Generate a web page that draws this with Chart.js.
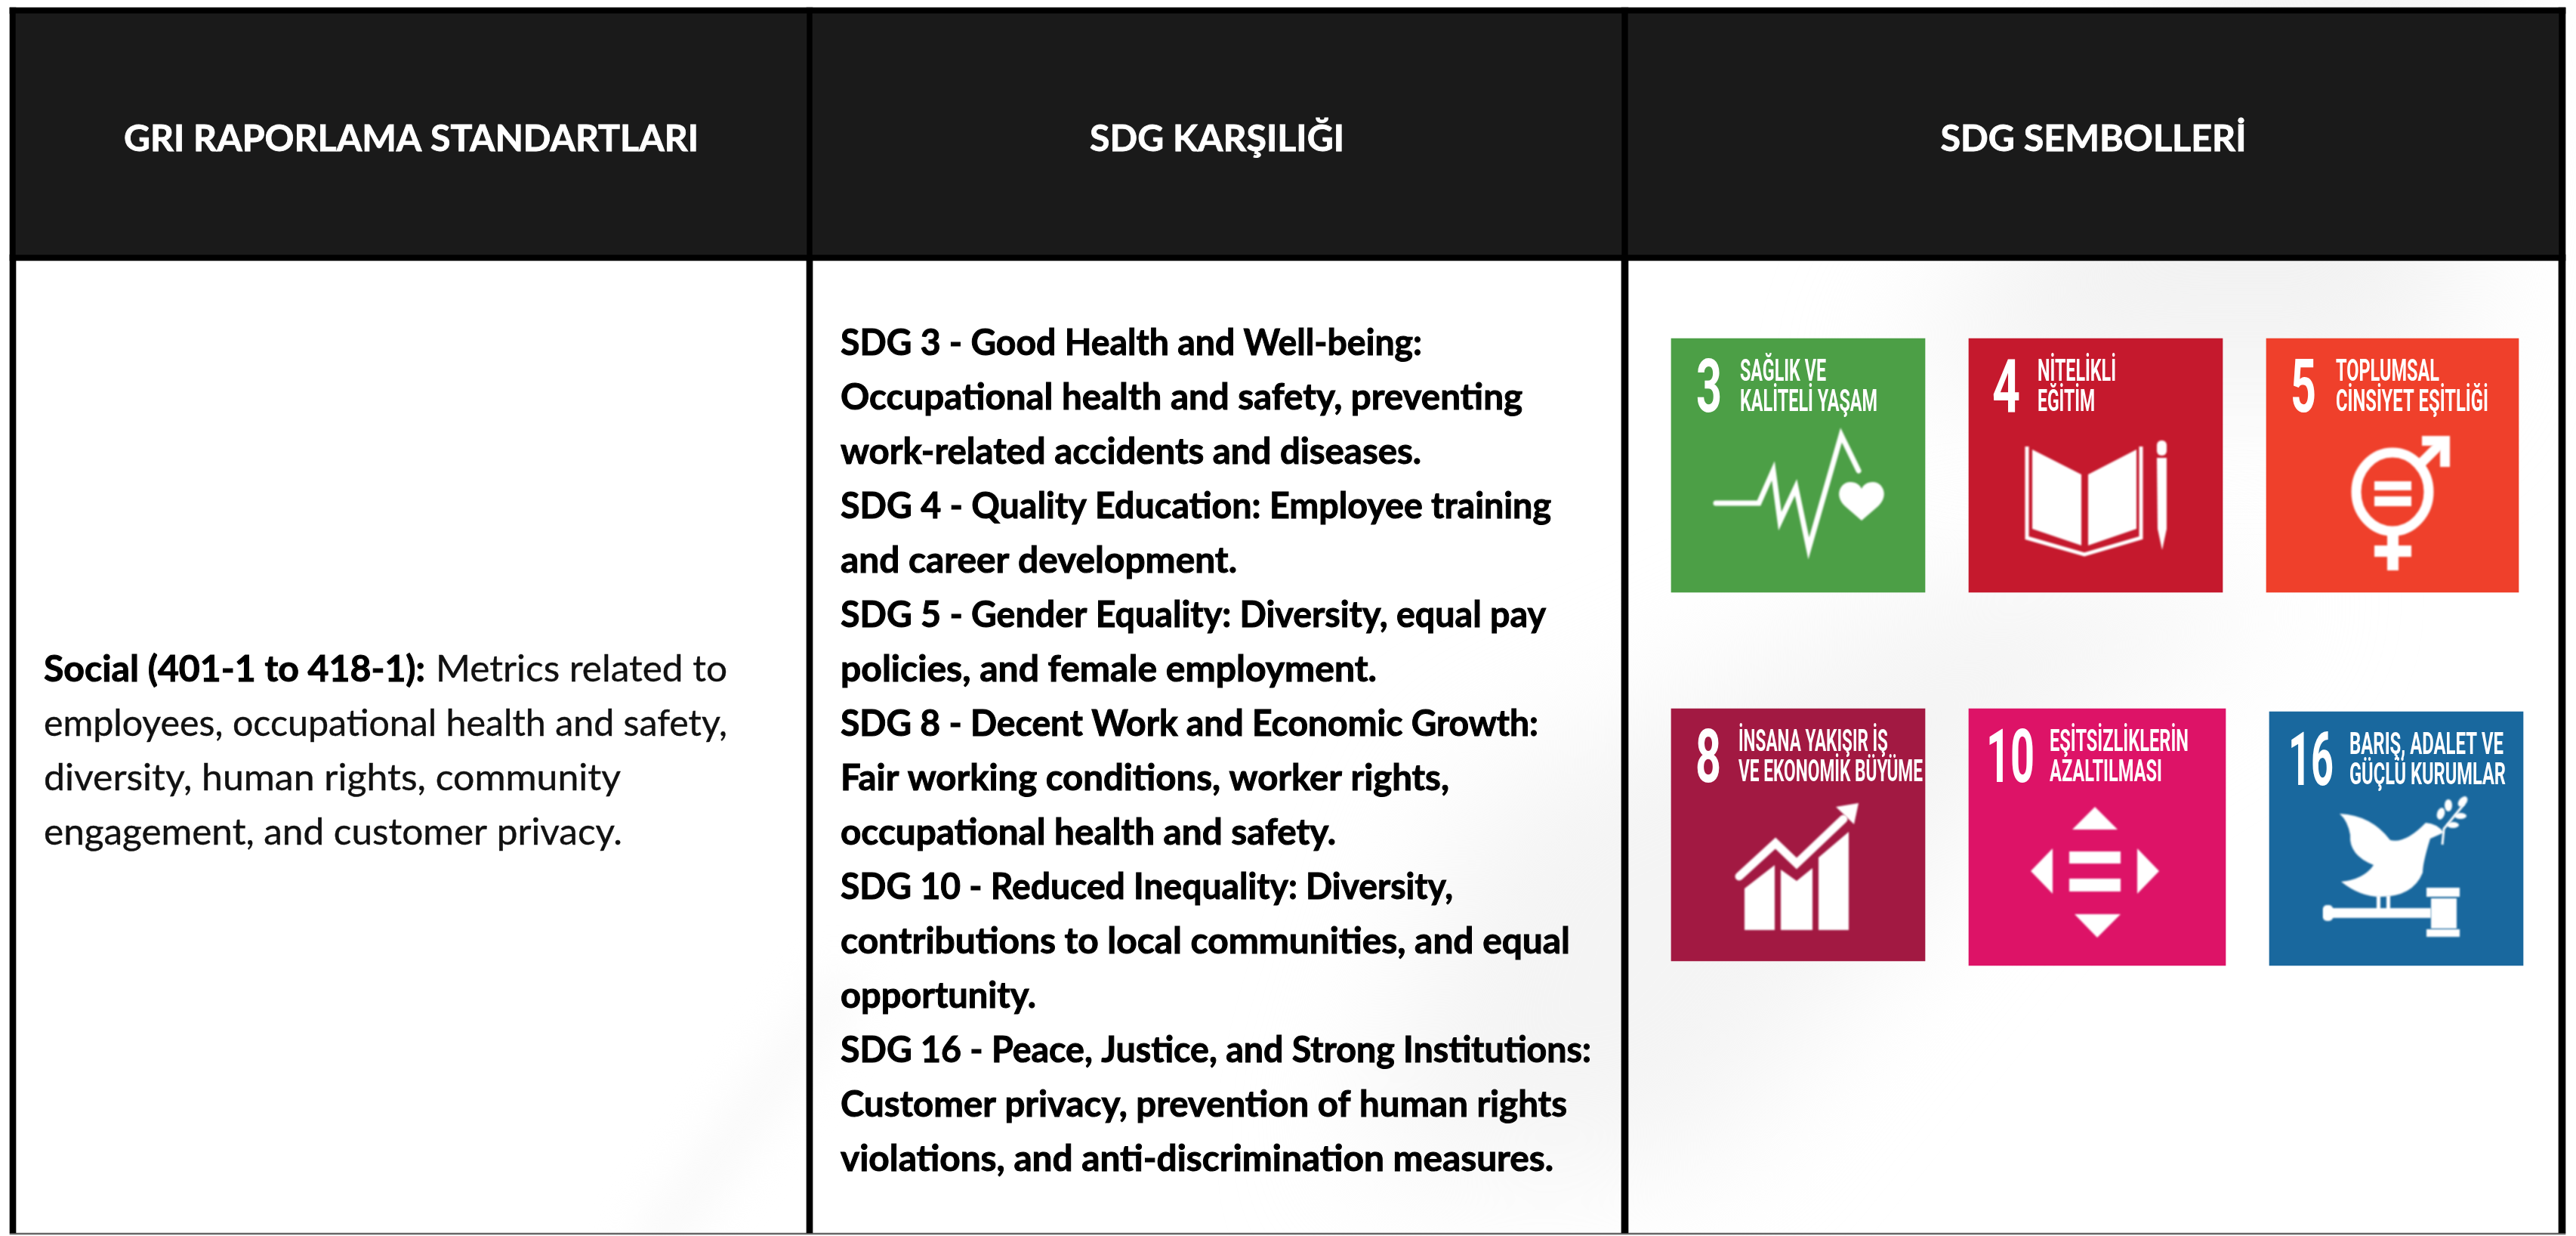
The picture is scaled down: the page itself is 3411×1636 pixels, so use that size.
<!DOCTYPE html>
<html lang="tr">
<head>
<meta charset="utf-8">
<title>GRI - SDG</title>
<script src="https://cdn.jsdelivr.net/npm/chart.js@4"></script>
<style>
html, body { margin: 0; padding: 0; background: #fff; }
canvas { display: block; }
</style>
</head>
<body>
<canvas id="myChart" width="3411" height="1636"></canvas>
<script>
const headers = ["GRI RAPORLAMA STANDARTLARI", "SDG KARŞILIĞI", "SDG SEMBOLLERİ"];
const socialBold = "Social (401-1 to 418-1):";
const socialFirst = "Metrics related to";
const socialLines = [
    "employees, occupational health and safety,",
    "diversity, human rights, community",
    "engagement, and customer privacy."
];
const sdgLines = [
    "SDG 3 - Good Health and Well-being:",
    "Occupational health and safety, preventing",
    "work-related accidents and diseases.",
    "SDG 4 - Quality Education: Employee training",
    "and career development.",
    "SDG 5 - Gender Equality: Diversity, equal pay",
    "policies, and female employment.",
    "SDG 8 - Decent Work and Economic Growth:",
    "Fair working conditions, worker rights,",
    "occupational health and safety.",
    "SDG 10 - Reduced Inequality: Diversity,",
    "contributions to local communities, and equal",
    "opportunity.",
    "SDG 16 - Peace, Justice, and Strong Institutions:",
    "Customer privacy, prevention of human rights",
    "violations, and anti-discrimination measures."
];
// satırların sağ uçları
const sdgLineEnds = [1883, 2016, 1882, 2054, 1638, 2047, 1823, 2037, 1919, 1769, 1924, 2079, 1372, 2107, 2075, 2057];
const socialLineEnds = [963, 822, 824];

// SDG kutuları
const tileNumbers = ["3", "4", "5", "8", "10", "16"];
const tileLine1 = ["SAĞLIK VE", "NİTELİKLİ", "TOPLUMSAL", "İNSANA YAKIŞIR İŞ", "EŞİTSİZLİKLERİN", "BARIŞ, ADALET VE"];
const tileLine2 = ["KALİTELİ YAŞAM", "EĞİTİM", "CİNSİYET EŞİTLİĞİ", "VE EKONOMİK BÜYÜME", "AZALTILMASI", "GÜÇLÜ KURUMLAR"];
const tileLeft = [2213, 2607, 3001, 2213, 2607, 3005];
const tileRight = [2549, 2943, 3335, 2549, 2947, 3341];
const tileTop = [448, 448, 448, 938, 938, 942];
const tileBottom = [784, 784, 784, 1272, 1278, 1278];
const tileColors = ["#4c9f46", "#c5192d", "#ef402b", "#a21942", "#dd1367", "#19689e"];

// kutu içi yazı yerleşimi
const numX = [[33, 67], [31, 68], [32, 66], [32, 66], [23, 87], [25, 85]];
const lineX = [91, 91, 92, 89, 107, 106];
const line1W = [114, 104, 137, 198, 184, 204];
const line2W = [182, 76, 202, 244, 149, 207];

// tablo çizgileri
const colEdges = [13, 21, 1068, 1076, 2147, 2156, 3388, 3397];
const rowEdges = [10, 18, 337, 345, 1632];

function rect(x0, x1, y0, y1, color) {
    return {
        type: "bar",
        data: [{ x: (x0 + x1) / 2, y: [y0, y1] }],
        barThickness: x1 - x0,
        backgroundColor: color,
        borderWidth: 0,
        grouped: false
    };
}

const datasets = [];
// başlık hücreleri
datasets.push(rect(colEdges[1], colEdges[2], rowEdges[1], rowEdges[2], "#1a1a1a"));
datasets.push(rect(colEdges[3], colEdges[4], rowEdges[1], rowEdges[2], "#1a1a1a"));
datasets.push(rect(colEdges[5], colEdges[6], rowEdges[1], rowEdges[2], "#1a1a1a"));
// kenarlıklar
datasets.push(rect(colEdges[0], colEdges[7], rowEdges[0], rowEdges[1], "#000"));
datasets.push(rect(colEdges[0], colEdges[7], rowEdges[2], rowEdges[3], "#000"));
datasets.push(rect(colEdges[0], colEdges[1], rowEdges[0], rowEdges[4], "#000"));
datasets.push(rect(colEdges[2], colEdges[3], rowEdges[0], rowEdges[4], "#000"));
datasets.push(rect(colEdges[4], colEdges[5], rowEdges[0], rowEdges[4], "#000"));
datasets.push(rect(colEdges[6], colEdges[7], rowEdges[0], rowEdges[4], "#000"));
datasets.push(rect(colEdges[0], colEdges[7], rowEdges[4], rowEdges[4] + 2, "#666"));
// SDG kutuları
tileNumbers.forEach(function(n, i) {
    datasets.push(rect(tileLeft[i], tileRight[i], tileTop[i], tileBottom[i], tileColors[i]));
});

function fitText(ctx, text, x, y, w, font, color, heavy) {
    ctx.save();
    ctx.font = font;
    ctx.fillStyle = color;
    ctx.strokeStyle = color;
    ctx.textAlign = "left";
    ctx.textBaseline = "alphabetic";
    ctx.filter = "blur(0.6px)";
    const m = ctx.measureText(text).width;
    ctx.translate(x, y);
    ctx.scale(w / m, 1);
    ctx.fillText(text, 0, 0);
    if (heavy) {
        ctx.lineWidth = heavy;
        ctx.strokeText(text, 0, 0);
    }
    ctx.restore();
}

function poly(ctx, pts) {
    ctx.beginPath();
    pts.forEach(function(p, i) { if (i === 0) ctx.moveTo(p[0], p[1]); else ctx.lineTo(p[0], p[1]); });
}

function fillPoly(ctx, pts) {
    poly(ctx, pts);
    ctx.closePath();
    ctx.fill();
}

// semboller, kutunun sol üst köşesine göre
const glyphs = {
    "3": function(ctx) {
        ctx.lineWidth = 7;
        ctx.lineJoin = "miter";
        ctx.lineCap = "round";
        poly(ctx, [[59, 218], [116, 218], [135, 175], [144, 242], [165, 197], [182, 278], [225, 128], [248, 175]]);
        ctx.stroke();
        ctx.beginPath();
        ctx.moveTo(252, 241);
        ctx.lineTo(230, 222);
        ctx.bezierCurveTo(215, 208, 224, 190, 237, 190);
        ctx.bezierCurveTo(245, 190, 250, 194, 252, 199);
        ctx.bezierCurveTo(254, 194, 259, 190, 267, 190);
        ctx.bezierCurveTo(280, 190, 289, 208, 274, 222);
        ctx.closePath();
        ctx.fill();
    },
    "4": function(ctx) {
        fillPoly(ctx, [[84, 147], [149, 180], [149, 274], [84, 252]]);
        fillPoly(ctx, [[158, 180], [222, 147], [222, 252], [158, 274]]);
        ctx.lineWidth = 5;
        ctx.lineJoin = "miter";
        poly(ctx, [[77, 143], [77, 264], [153, 286], [228, 264], [228, 143]]);
        ctx.stroke();
        ctx.beginPath();
        ctx.roundRect(249, 135, 13, 20, 6);
        ctx.fill();
        fillPoly(ctx, [[249, 158], [262, 158], [262, 252], [256, 280], [250, 252]]);
    },
    "5": function(ctx) {
        ctx.lineWidth = 13;
        ctx.beginPath();
        ctx.ellipse(167, 203, 48, 52, 0, 0, Math.PI * 2);
        ctx.stroke();
        ctx.fillRect(143, 189, 49, 12);
        ctx.fillRect(143, 209, 49, 13);
        ctx.fillRect(160, 255, 15, 52);
        ctx.fillRect(143, 274, 49, 15);
        ctx.lineWidth = 13;
        poly(ctx, [[200, 170], [233, 137]]);
        ctx.stroke();
        fillPoly(ctx, [[206, 129], [243, 129], [243, 170], [230, 170], [230, 142], [206, 142]]);
    },
    "8": function(ctx) {
        fillPoly(ctx, [[97, 238], [137, 207], [137, 293], [97, 293]]);
        fillPoly(ctx, [[145, 213], [166, 228], [187, 211], [187, 293], [145, 293]]);
        fillPoly(ctx, [[195, 197], [235, 163], [235, 293], [195, 293]]);
        ctx.lineWidth = 11;
        ctx.lineCap = "round";
        ctx.lineJoin = "miter";
        poly(ctx, [[90, 222], [138, 178], [166, 205], [228, 146]]);
        ctx.stroke();
        fillPoly(ctx, [[248, 125], [218, 130], [242, 153]]);
    },
    "10": function(ctx) {
        fillPoly(ctx, [[167, 130], [197, 160], [137, 160]]);
        fillPoly(ctx, [[170, 303], [140, 272], [201, 272]]);
        fillPoly(ctx, [[111, 185], [111, 245], [82, 215]]);
        fillPoly(ctx, [[223, 185], [252, 215], [223, 245]]);
        ctx.fillRect(133, 189, 68, 16);
        ctx.fillRect(133, 225, 68, 17);
    },
    "16": function(ctx) {
        // güvercin
        ctx.beginPath();
        ctx.moveTo(93, 135);
        ctx.quadraticCurveTo(135, 137, 160, 170);
        ctx.quadraticCurveTo(180, 175, 207, 147);
        ctx.quadraticCurveTo(222, 148, 231, 160);
        ctx.lineTo(213, 168);
        ctx.quadraticCurveTo(203, 200, 203, 213);
        ctx.quadraticCurveTo(190, 245, 147, 245);
        ctx.quadraticCurveTo(120, 245, 95, 225);
        ctx.quadraticCurveTo(125, 222, 138, 203);
        ctx.quadraticCurveTo(105, 190, 107, 163);
        ctx.quadraticCurveTo(104, 145, 93, 135);
        ctx.closePath();
        ctx.fill();
        // bacaklar
        ctx.fillRect(142, 243, 5, 20);
        ctx.fillRect(155, 243, 5, 20);
        // tokmak
        ctx.fillRect(72, 260, 142, 13);
        ctx.beginPath();
        ctx.roundRect(71, 256, 13, 21, 5);
        ctx.fill();
        ctx.fillRect(214, 247, 34, 40);
        ctx.fillRect(208, 233, 44, 12);
        ctx.fillRect(208, 288, 44, 10);
        // dal
        ctx.lineWidth = 3;
        poly(ctx, [[229, 176], [231, 155], [258, 122]]);
        ctx.stroke();
        [[227, 135, 5, 8, 0.3], [237, 124, 5, 8, 0], [256, 119, 5, 8, 0.7], [253, 138, 8, 4, 0], [243, 150, 8, 4, 0]].forEach(function(e) {
            ctx.beginPath();
            ctx.ellipse(e[0], e[1], e[2], e[3], e[4], 0, Math.PI * 2);
            ctx.fill();
        });
    }
};

const tablePlugin = {
    id: "tablePlugin",
    beforeDraw: function(chart) {
        const ctx = chart.ctx;
        ctx.save();
        ctx.fillStyle = "#fff";
        ctx.fillRect(0, 0, chart.width, chart.height);
        // arka plandaki soluk kumaş izleri
        ctx.filter = "blur(90px)";
        ctx.fillStyle = "#f2f2f2";
        // sağ üst
        ctx.beginPath();
        ctx.moveTo(2950, -60);
        ctx.lineTo(3310, -60);
        ctx.lineTo(3230, 520);
        ctx.lineTo(2500, 520);
        ctx.closePath();
        ctx.fill();
        // iki sıra kutu arası ve orta sütun altı
        ctx.fillStyle = "#f4f4f4";
        ctx.beginPath();
        ctx.moveTo(2600, 760);
        ctx.lineTo(3050, 780);
        ctx.lineTo(2700, 1000);
        ctx.lineTo(2250, 1550);
        ctx.lineTo(1800, 1550);
        ctx.lineTo(1950, 1050);
        ctx.closePath();
        ctx.fill();
        // sol sütun alt köşe
        ctx.filter = "blur(30px)";
        ctx.strokeStyle = "#f8f8f8";
        ctx.lineWidth = 50;
        ctx.beginPath();
        ctx.moveTo(1120, 1300);
        ctx.lineTo(860, 1660);
        ctx.stroke();
        ctx.filter = "none";
        ctx.restore();
    },
    afterDatasetsDraw: function(chart) {
        const ctx = chart.ctx;
        const xs = chart.scales.x;
        const ys = chart.scales.y;
        ctx.save();

        // başlıklar
        const centers = [(colEdges[1] + colEdges[2]) / 2, (colEdges[3] + colEdges[4]) / 2, (colEdges[5] + colEdges[6]) / 2];
        const headerWidths = [761, 337, 405];
        headers.forEach(function(h, i) {
            fitText(ctx, h, xs.getPixelForValue(centers[i] - headerWidths[i] / 2), ys.getPixelForValue(200), headerWidths[i], 'bold 48px Lato', "#fff", 0.8);
        });

        // sol sütun
        const leftX = xs.getPixelForValue(58);
        fitText(ctx, socialBold, leftX, ys.getPixelForValue(902), 505, 'bold 48px Lato', "#000", 1);
        fitText(ctx, socialFirst, xs.getPixelForValue(577), ys.getPixelForValue(902), 386, '48px Lato', "#111", 0.4);
        socialLines.forEach(function(line, i) {
            fitText(ctx, line, leftX, ys.getPixelForValue(902 + (i + 1) * 72), socialLineEnds[i] - 58, '48px Lato', "#111", 0.4);
        });

        // orta sütun
        sdgLines.forEach(function(line, i) {
            fitText(ctx, line, xs.getPixelForValue(1113), ys.getPixelForValue(470 + i * 72), sdgLineEnds[i] - 1113, 'bold 48px Lato', "#000", 1);
        });

        // kutu içerikleri
        tileNumbers.forEach(function(n, i) {
            const x = xs.getPixelForValue(tileLeft[i]);
            const y = ys.getPixelForValue(tileTop[i]);
            fitText(ctx, n, x + numX[i][0], y + 97, numX[i][1] - numX[i][0], 'bold 98px Roboto', "#fff");
            fitText(ctx, tileLine1[i], x + lineX[i], y + 56, line1W[i], 'bold 40px Roboto', "#fff");
            fitText(ctx, tileLine2[i], x + lineX[i], y + 96, line2W[i], 'bold 40px Roboto', "#fff");
            ctx.save();
            ctx.translate(x, y);
            ctx.fillStyle = "#fff";
            ctx.strokeStyle = "#fff";
            ctx.filter = "blur(0.8px)";
            glyphs[n](ctx);
            ctx.restore();
        });
        ctx.restore();
    }
};

myChart = new Chart(document.getElementById("myChart").getContext("2d"), {
    type: "bar",
    data: { datasets: datasets },
    plugins: [tablePlugin],
    options: {
        responsive: false,
        animation: false,
        devicePixelRatio: 1,
        layout: { padding: 0 },
        plugins: { legend: { display: false }, tooltip: { enabled: false } },
        scales: {
            x: { type: "linear", min: 0, max: 3411, offset: false, display: false },
            y: { type: "linear", min: 0, max: 1636, reverse: true, display: false }
        }
    }
});
</script>
</body>
</html>
